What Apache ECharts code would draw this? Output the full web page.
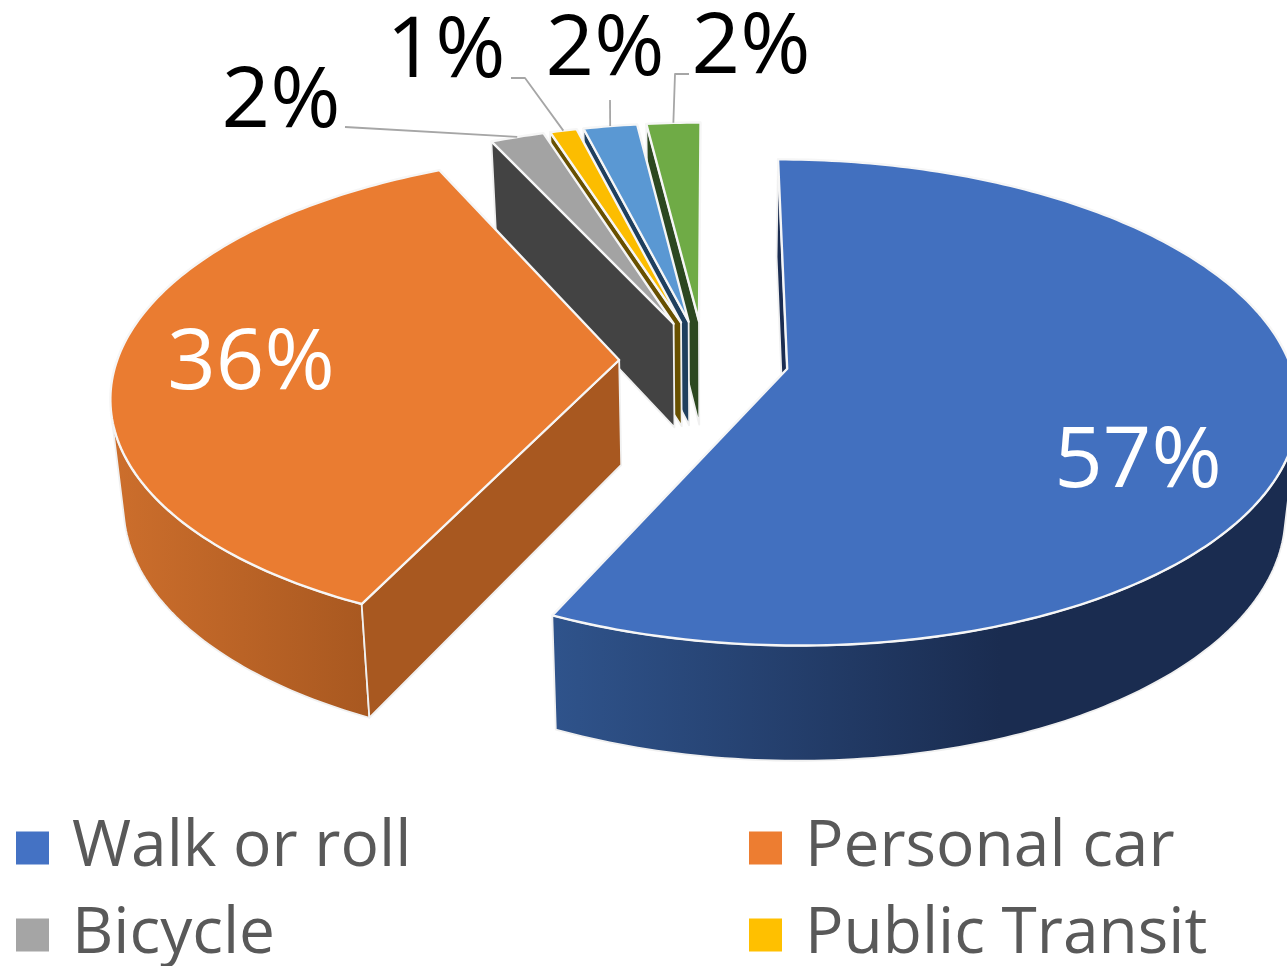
<!DOCTYPE html>
<html><head><meta charset="utf-8">
<style>html,body{margin:0;padding:0;background:#fff}#c{width:1287px;height:966px}</style>
<script src="https://cdn.jsdelivr.net/npm/echarts@6/dist/echarts.min.js"></script>
</head><body><div id="c"></div>
<script>
// Data
const categories = ['Walk or roll','Personal car','Bicycle','Public Transit','Other 1','Other 2'];
const shares = [57,36,2,1,2,2];
const legendLeft = ['Walk or roll','Bicycle'];
const legendRight = ['Personal car','Public Transit'];
const colors = ['#4472C4','#ED7D31','#A5A5A5','#FFC000','#5B9BD5','#70AD47'];
const topColors = ['#4270BF','#EA7C31','#A3A3A3','#FCBD00','#5A98D3','#6FAB46'];
const wallColors = ['#1B2D52','#A85820','#434343','#685000','#1F3F5E','#2C4720'];

// Projection of the tilted, exploded pie
const VX=712, CX=704, Y0=360, A=502, B=236, K=0.138, EXPLODE=0.169, DEPTH=105;
function project(x,y){const s=1/(1+K*y);return [VX+(CX-VX+A*x)*s, Y0-B*y*s, s];}
function lower(p){return [p[0]+(VX-p[0])*0.022, p[1]+DEPTH*Math.pow(p[2],0.6)];}
const total = shares.reduce((a,b)=>a+b,0);
const starts = shares.map((_,i)=>shares.slice(0,i).reduce((a,b)=>a+b,0));

// Label placement
const labelLayout = [
 {x:1138,y:463,fill:'#fff'},
 {x:251,y:365,fill:'#fff'},
 {x:281,y:103,fill:'#000',lead:[[345,127]]},
 {x:446,y:53,fill:'#000',lead:[[511,78],[525,78]]},
 {x:605,y:51,fill:'#000',lead:[[610,100]]},
 {x:751,y:49,fill:'#000',lead:[[689,74],[675,74]]}
];
const rimGradients = {
 0:[[556,'#2F538B'],[1000,'#1A2C50']],
 1:[[115,'#CC6E2C'],[370,'#A85820']]
};
const EDGE='#F0F0F0';
function makeRender(i){
 return function(params,api){
  const value=api.value(0);
  const a0=starts[i]/total*Math.PI*2, a1=a0+value/total*Math.PI*2, mid=(a0+a1)/2;
  const ex=EXPLODE*Math.sin(mid), ey=EXPLODE*Math.cos(mid);
  const pt=(r,t)=>project(ex+r*Math.sin(t),ey+r*Math.cos(t));
  const apex=pt(0,0), arc=[];
  const n=Math.max(4,Math.ceil((a1-a0)/(Math.PI/180)));
  for(let k=0;k<=n;k++) arc.push(pt(1,a0+(a1-a0)*k/n));
  const xy=p=>[p[0],p[1]];
  const poly=(points,fill,stroke,w)=>({type:'polygon',shape:{points},style:{fill,stroke:stroke||EDGE,lineWidth:w||1.8,lineJoin:'round'}});
  const line=(points,stroke,w)=>({type:'polyline',shape:{points},style:{fill:null,stroke,lineWidth:w,lineJoin:'round'}});
  const wall=(p)=>[xy(apex),xy(p),lower(p),lower(apex)];
  const kids=[];
  const grad=rimGradients[i];
  if(grad){
    // outer wall: only the camera-facing stretch of the arc, up to its silhouette
    const facing=[];
    let low=1;
    for(let k=1;k<=n;k++){
      const a=arc[k-1],b=arc[k],d=lower(b);
      facing[k]=(b[0]-a[0])*(d[1]-b[1])-(b[1]-a[1])*(d[0]-b[0]);
      if(b[1]>arc[low][1]) low=k;
    }
    let from=low,to=low;
    while(from>1&&facing[from-1]*facing[low]>0) from--;
    while(to<n&&facing[to+1]*facing[low]>0) to++;
    const vis=arc.slice(from-1,to+1);
    const rimFill=new echarts.graphic.LinearGradient(grad[0][0],0,grad[1][0],0,[{offset:0,color:grad[0][1]},{offset:1,color:grad[1][1]}],true);
    kids.push(poly(vis.map(xy).concat(vis.slice().reverse().map(lower)),rimFill));
  }
  kids.push(poly(wall(arc[0]),wallColors[i]));
  kids.push(poly([xy(apex)].concat(arc.map(xy)),topColors[i],'#F6F6F6',2.4));
  const L=labelLayout[i];
  if(L.lead){
    kids.push(line(L.lead.concat([xy(pt(1,mid))]),'#A6A6A6',1.8));
  }
  kids.push({type:'text',style:{text:value+'%',x:L.x,y:L.y,align:'center',verticalAlign:'middle',fill:L.fill,font:'85px "Open Sans"'}});
  return {type:'group',children:kids};
 };
}
const drawOrder=[5,4,3,2,1,0];
const legendBase={orient:'vertical',icon:'rect',itemWidth:33,itemHeight:33,itemGap:23,top:816,height:400,padding:0,
 textStyle:{fontFamily:'Open Sans',fontSize:64,color:'#595959',lineHeight:64,padding:[0,0,0,18]},selectedMode:false};
const chart=echarts.init(document.getElementById('c'),null,{renderer:'canvas'});
chart.setOption({
 animation:false,backgroundColor:'#fff',
 legend:[Object.assign({},legendBase,{left:16,data:legendLeft}),Object.assign({},legendBase,{left:749,data:legendRight})],
 series:drawOrder.map(i=>({type:'custom',name:categories[i],coordinateSystem:'none',silent:true,clip:false,
   itemStyle:{color:colors[i]},data:[[shares[i]]],renderItem:makeRender(i)}))
});
</script></body></html>
